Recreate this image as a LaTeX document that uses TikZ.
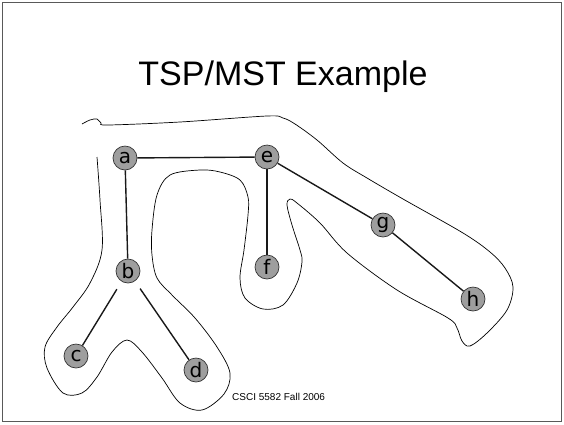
\documentclass[tikz,border=0pt]{standalone}
\usepackage{fontspec}
\setmainfont{Liberation Sans}
\newfontfamily\nodefont{DejaVu Sans}
\begin{document}
\begin{tikzpicture}[x=1pt,y=-1pt,
  vtx/.style={circle,draw=black!80,line width=0.7pt,fill=black!38,minimum size=24pt,inner sep=0pt,font=\nodefont\fontsize{20}{20}\selectfont},
  edge/.style={line width=1.4pt,black!90},
  tour/.style={line width=0.7pt,black}]
\useasboundingbox (0,0) rectangle (564,424);
\draw[line width=1.6pt,black!65] (2.5,2.5) rectangle (561.5,421.5);
\node[anchor=base,font=\fontsize{34}{34}\selectfont] (title) at (283,85) {TSP/MST Example};
\node[anchor=base west,inner sep=0pt,font=\fontsize{10}{10}\selectfont] (foot) at (232,400) {CSCI 5582 Fall 2006};
% tour contour
\draw[tour] plot[smooth,tension=0.55] coordinates {
(82,124) (90,120) (97,119) (101,123) (108,125) (180,122) (267,116) (283,118) (295,124) (317,140) (343,163) (367,178)
(403,199) (463,233) (490,252) (505,268) (513,287) (507,310) (487,333) (470,346) (462,341) (457,328) (448,318)
(397,290) (347,253) (320,223) (297,203) (290,199) (287,205) (292,225) (300,250) (302,262) (297,283) (283,305)
(263,309) (245,298) (240,278) (244,250) (248,215) (248,197) (240,180) (220,172) (200,170) (170,175) (157,195)
(152,230) (152,255) (157,278) (172,295) (195,318) (217,347) (230,373) (224,394) (202,410) (180,403) (162,378)
(142,352) (127,340) (112,352) (97,377) (82,393) (63,393) (47,368) (45,347) (57,327) (73,307) (90,283) (102,250)
(100,200) (97,157)};
% vertices
\node[vtx] (a) at (125,158) {a};
\node[vtx] (e) at (267,157) {e};
\node[vtx] (b) at (128,271) {b};
\node[vtx] (f) at (267,267) {f};
\node[vtx] (g) at (383,225) {g};
\node[vtx] (h) at (473,299) {h};
\node[vtx] (c) at (76,356) {c};
\node[vtx] (d) at (196,370) {d};
% MST edges
\draw[edge] (a) -- (e);
\draw[edge] (a) -- (b);
\draw[edge] (e) -- (f);
\draw[edge] (e) -- (g);
\draw[edge] (g) -- (h);
\draw[edge,shorten <=9pt] (b) -- (c);
\draw[edge,shorten <=9pt] (b) -- (d);
\end{tikzpicture}
\end{document}
